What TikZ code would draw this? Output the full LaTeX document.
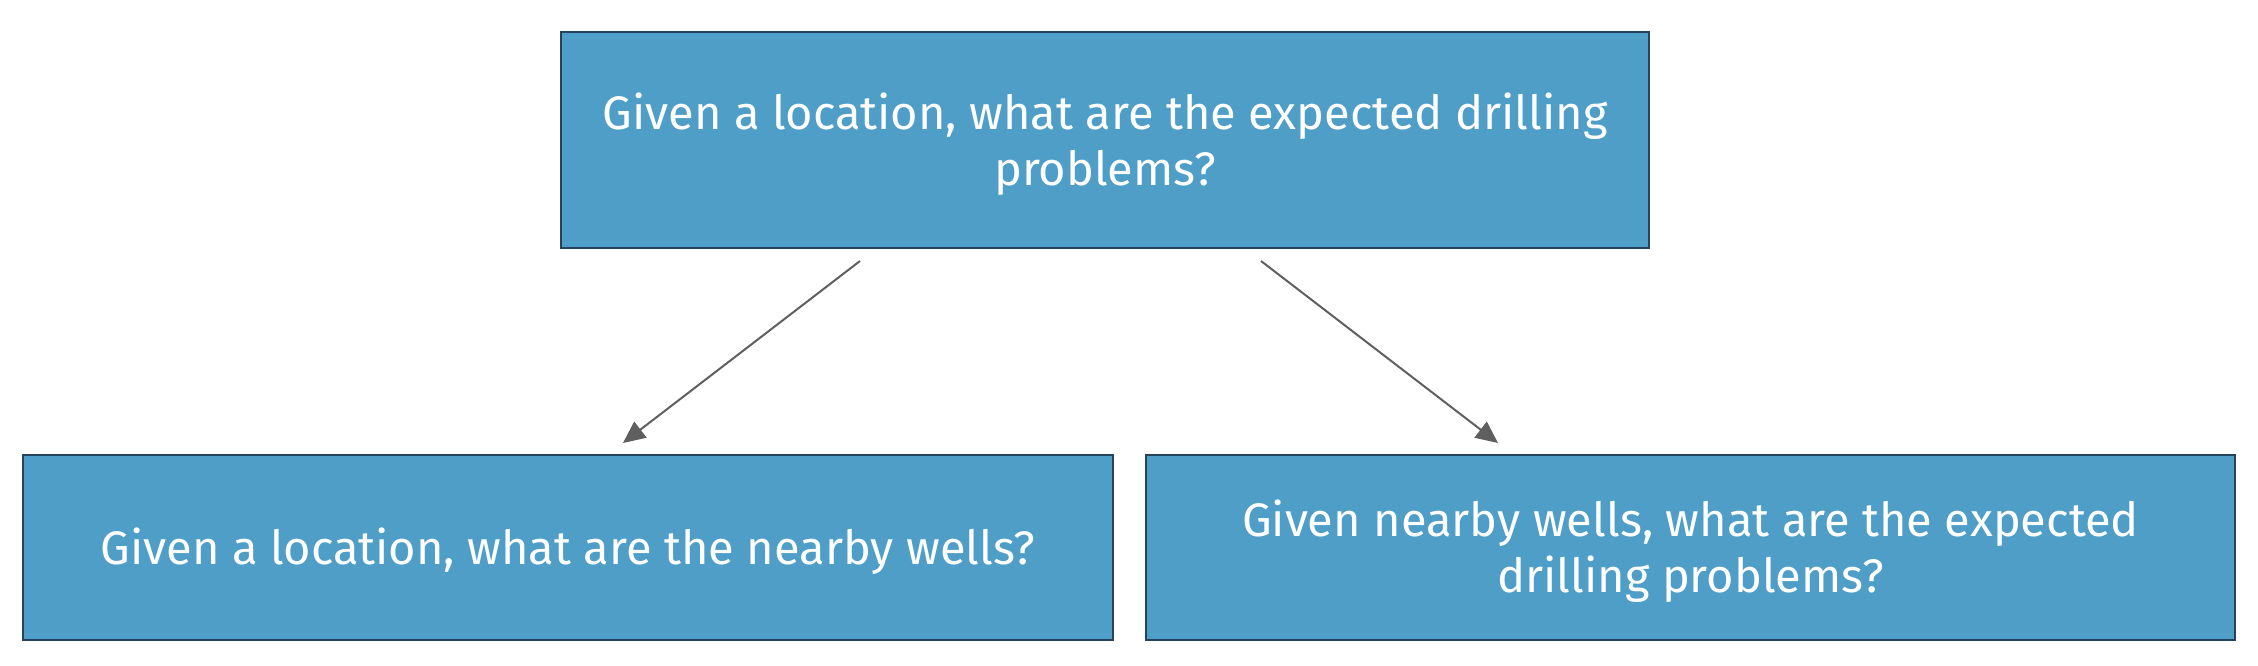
\documentclass[tikz,border=0pt]{standalone}
\usepackage{fontspec}
\setmainfont{Fira Sans}
\usetikzlibrary{arrows.meta}
\definecolor{boxfill}{HTML}{4E9EC7}
\definecolor{boxline}{HTML}{24435C}
\definecolor{arrowgray}{HTML}{5F5F5F}
\tikzset{
  qbox/.style={draw=boxline, line width=2pt, fill=boxfill,
    minimum width=#1, inner sep=0pt},
  qtext/.style={text=white, align=center, inner sep=0pt,
    font=\fontsize{47}{56}\selectfont},
  conn/.style={draw=arrowgray, line width=2pt,
    -{Triangle[length=22pt,width=20pt]}, arrowgray}
}
\begin{document}
\begin{tikzpicture}[x=1pt,y=1pt]
\useasboundingbox (0,0) rectangle (2258,666);
\node[qbox=1088pt, minimum height=216pt] (top) at (1105,526) {};
\node[qtext] (toptext) at ([yshift=-4pt]top.center)
  {Given a location, what are the expected drilling\\problems?};
\node[qbox=1090pt, minimum height=185pt] (left) at (568,118.5) {};
\node[qtext] (lefttext) at ([yshift=-4pt]left.center)
  {Given a location, what are the nearby wells?};
\node[qbox=1089pt, minimum height=185pt] (right) at (1690.5,118.5) {};
\node[qtext] (righttext) at ([yshift=-4pt]right.center)
  {Given nearby wells, what are the expected\\drilling problems?};
\coordinate (s1) at (860,405);
\coordinate (e1) at (623,223);
\coordinate (s2) at (1261,405);
\coordinate (e2) at (1498,223);
\draw[conn] (s1) -- (e1);
\draw[conn] (s2) -- (e2);
\end{tikzpicture}
\end{document}
